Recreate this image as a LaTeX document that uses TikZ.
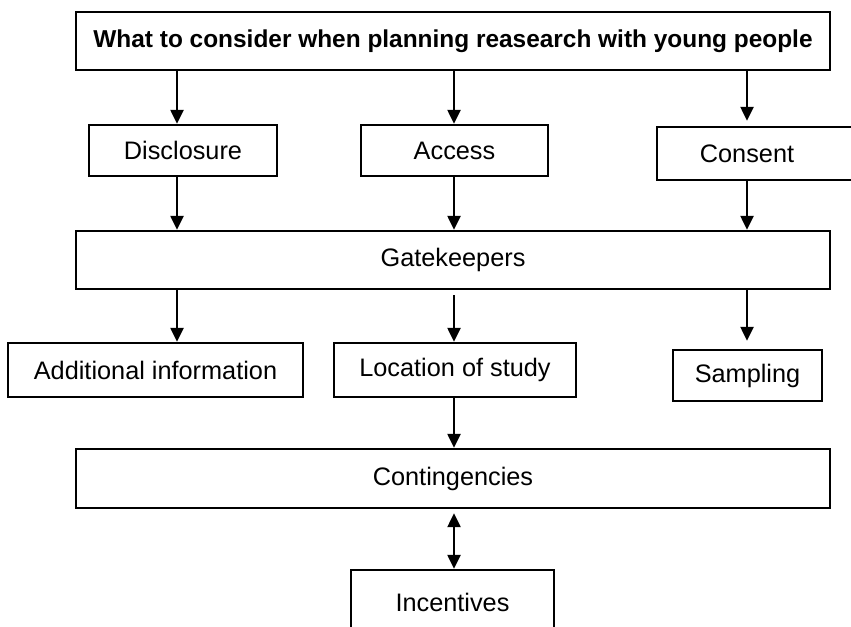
\documentclass[tikz,border=0pt]{standalone}
\usepackage{fontspec}
\setmainfont{Liberation Sans}
\usetikzlibrary{positioning,calc,arrows.meta}

\begin{document}
\begin{tikzpicture}[x=0.02cm, y=-0.02cm,
		box/.style={draw, line width=1.4pt, inner sep=0pt, font=\fontsize{14.4}{17}\selectfont},
		arr/.style={line width=1.4pt, -{Triangle[length=0.28cm, width=0.26cm]}},
		dblarr/.style={line width=1.4pt, {Triangle[length=0.28cm, width=0.26cm]}-{Triangle[length=0.28cm, width=0.26cm]}}]
			\useasboundingbox (0,0) rectangle (851,626);
			\node[name=title, box, minimum width=15.08cm, minimum height=1.16cm, font=\fontsize{13.9}{17}\selectfont\bfseries] at (453,41) {What to consider when planning reasearch with young people};
			\node[name=disc, box, minimum width=3.76cm, minimum height=1.02cm] at (183,150.5) {Disclosure};
			\node[name=acc, box, minimum width=3.74cm, minimum height=1.02cm] at (454.5,150.5) {Access};
			\node[name=cons, box, draw=none, minimum width=3.56cm, minimum height=1.02cm] at (747,153.5) {Consent};
			\draw[line width=1.4pt] ([xshift=4cm]cons.north west) -- (cons.north west) -- (cons.south west) -- ([xshift=4cm]cons.south west);
			\node[name=gate, box, minimum width=15.08cm, minimum height=1.16cm] at (453,260) {Gatekeepers};
			\node[name=addi, box, minimum width=5.9cm, minimum height=1.08cm] at (155.5,370) {Additional information};
			\node[name=loc, box, minimum width=4.84cm, minimum height=1.08cm] at (455,370) {Location of study};
			\node[name=samp, box, minimum width=2.98cm, minimum height=1.02cm] at (747.5,375.5) {Sampling};
			\node[name=cont, box, minimum width=15.08cm, minimum height=1.18cm] at (453,478.5) {Contingencies};
			\node[name=inc, box, minimum width=4.06cm, minimum height=1.28cm] at (452.5,602) {Incentives};
			\coordinate (colA) at (177,0);
			\coordinate (colB) at (454,0);
			\coordinate (colC) at (747,0);
			\draw[arr] (title.south -| colA) -- (disc.north -| colA);
			\draw[arr] (title.south -| colB) -- (acc.north -| colB);
			\draw[arr, shorten >=0.12cm] (title.south -| colC) -- (cons.north -| colC);
			\draw[arr] (disc.south -| colA) -- (gate.north -| colA);
			\draw[arr] (acc.south -| colB) -- (gate.north -| colB);
			\draw[arr] (cons.south -| colC) -- (gate.north -| colC);
			\draw[arr] (gate.south -| colA) -- (addi.north -| colA);
			\draw[arr, shorten <=0.1cm] (gate.south -| colB) -- (loc.north -| colB);
			\draw[arr, shorten >=0.16cm] (gate.south -| colC) -- (samp.north -| colC);
			\draw[arr] (loc.south -| colB) -- (cont.north -| colB);
			\draw[dblarr, shorten <=0.08cm] (cont.south -| colB) -- (inc.north -| colB);
		\end{tikzpicture}
\end{document}
